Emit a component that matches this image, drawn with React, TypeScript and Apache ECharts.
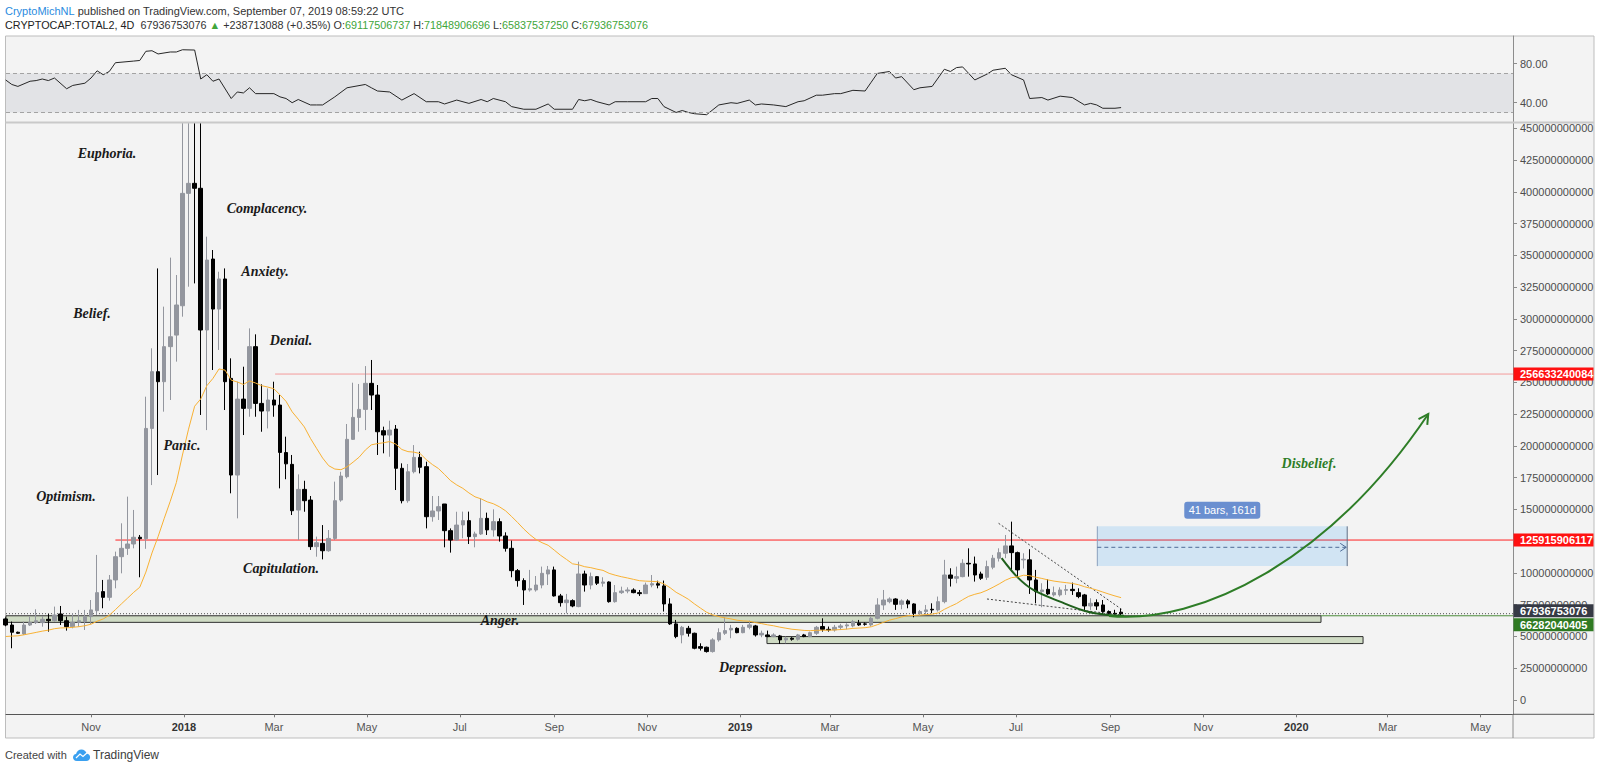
import React, { useEffect, useRef } from 'react';
import * as echarts from 'echarts';

// ---------------- data (values in billions of USD) ----------------
const firstBarUTC = Date.UTC(2017, 8, 6);
const barMs = 4 * 86400000;

const opens = [
  63.8, 59.0, 53.3, 52.0, 59.0, 60.9, 60.9, 63.5, 62.4, 67.7,
  62.4, 57.7, 61.1, 61.7, 65.6, 70.3, 85.3, 80.8, 94.5, 112.8,
  119.4, 122.8, 128.1, 127.0, 213.8, 258.5, 250.6, 278.2, 287.3, 310.4,
  398.9, 406.8, 402.9, 291.3, 347.2, 307.8, 331.5, 253.2, 177.1, 236.9,
  229.6, 278.2, 233.5, 227.5, 236.2, 232.2, 194.8, 185.5, 149.5, 165.8,
  157.4, 120.7, 123.3, 117.5, 127.2, 157.4, 175.8, 205.2, 222.5, 228.8,
  249.3, 240.1, 212.0, 208.6, 213.3, 182.4, 156.9, 179.7, 191.0, 183.7,
  144.3, 148.8, 154.3, 133.3, 125.9, 137.8, 141.2, 128.6, 130.7, 143.0,
  133.9, 140.4, 129.1, 119.4, 101.8, 94.0, 86.6, 86.6, 90.5, 99.2,
  102.4, 81.9, 76.6, 78.2, 73.5, 99.2, 90.5, 97.1, 91.9, 92.9,
  77.4, 84.5, 85.8, 86.6, 84.5, 83.7, 90.5, 91.5, 89.8, 75.6,
  59.9, 51.2, 56.4, 52.5, 42.0, 41.5, 38.1, 47.3, 52.5, 55.1,
  56.4, 53.0, 57.2, 58.3, 51.2, 51.2, 49.9, 50.4, 47.3, 48.6,
  47.8, 51.2, 49.9, 52.5, 57.8, 55.6, 55.1, 57.2, 58.3, 58.3,
  60.4, 59.9, 59.1, 64.3, 74.8, 77.4, 79.5, 75.3, 78.0, 75.6,
  68.3, 69.6, 71.4, 70.9, 77.4, 98.4, 95.8, 97.1, 107.6, 107.1,
  99.2, 96.6, 104.5, 111.6, 115.5, 121.3, 116.0, 110.3, 110.3, 94.5,
  85.3, 87.1, 82.7, 82.7, 86.3, 87.1, 84.5, 82.7, 74.0, 76.6,
  74.8, 69.6, 68.2, 69.117506737,
];
const closes = [
  59.0, 53.3, 52.5, 59.0, 61.1, 62.4, 63.5, 62.4, 66.9, 62.4,
  57.7, 61.1, 62.4, 65.6, 70.9, 84.5, 80.8, 94.5, 112.8, 119.4,
  122.8, 128.1, 127.0, 213.8, 258.5, 250.6, 278.2, 286.0, 311.0, 398.9,
  406.8, 402.9, 291.3, 346.4, 307.8, 331.5, 250.6, 177.1, 236.9, 229.6,
  278.2, 233.5, 227.5, 236.2, 232.2, 194.9, 185.9, 149.0, 165.8, 156.9,
  120.7, 123.8, 117.5, 127.2, 156.9, 176.3, 205.2, 222.5, 228.8, 249.3,
  240.1, 211.2, 208.6, 212.5, 182.4, 156.9, 179.7, 191.0, 183.2, 144.3,
  148.8, 152.2, 133.3, 125.9, 137.7, 141.2, 128.6, 130.7, 143.0, 133.9,
  140.4, 129.1, 119.4, 101.8, 94.0, 86.6, 87.6, 90.5, 99.7, 102.4,
  81.9, 76.6, 78.7, 74.0, 99.2, 90.5, 97.1, 91.9, 92.9, 77.4,
  84.5, 85.8, 86.6, 84.5, 83.7, 90.5, 91.5, 90.4, 75.6, 59.9,
  49.9, 57.2, 52.5, 40.7, 40.7, 38.1, 47.3, 53.0, 54.6, 56.4,
  53.0, 57.2, 59.1, 51.2, 52.5, 49.9, 51.2, 47.3, 48.6, 47.8,
  51.2, 49.9, 53.0, 57.2, 55.6, 55.1, 57.2, 58.3, 59.1, 61.7,
  59.1, 59.6, 64.3, 74.8, 78.7, 79.5, 75.3, 78.0, 75.6, 68.3,
  69.6, 70.9, 70.9, 77.4, 98.4, 95.8, 97.1, 107.6, 107.1, 98.4,
  95.8, 105.0, 111.6, 116.0, 121.3, 116.0, 102.4, 110.8, 94.5, 85.3,
  86.6, 83.5, 84.5, 86.6, 86.9, 86.1, 81.4, 74.0, 76.1, 74.0,
  69.6, 68.2, 67.7, 67.936753076,
];
const lows = [
  58.0, 40.7, 52.0, 51.2, 58.3, 59.8, 57.7, 53.8, 61.7, 59.0,
  54.6, 56.4, 57.7, 55.1, 59.8, 66.9, 72.2, 78.2, 87.9, 99.7,
  114.2, 119.4, 96.6, 119.0, 169.2, 177.1, 227.0, 236.2, 266.4, 301.8,
  325.4, 328.0, 224.4, 212.5, 259.8, 275.6, 228.3, 162.7, 143.0, 208.6,
  223.0, 223.0, 211.2, 213.8, 223.0, 166.6, 173.8, 145.6, 125.9, 148.2,
  118.1, 112.8, 110.7, 116.7, 125.9, 156.1, 174.5, 204.7, 211.2, 212.5,
  228.3, 192.9, 194.2, 191.5, 165.3, 154.8, 155.3, 178.4, 178.4, 135.1,
  140.4, 141.7, 120.2, 116.0, 125.4, 127.3, 122.8, 120.2, 129.9, 129.9,
  128.6, 124.7, 116.8, 96.6, 89.2, 74.8, 85.3, 85.3, 87.9, 90.5,
  81.4, 73.5, 68.2, 73.0, 73.0, 85.3, 87.1, 90.5, 89.2, 76.6,
  76.6, 83.5, 84.0, 84.0, 81.9, 83.5, 88.7, 87.9, 69.6, 59.1,
  48.6, 44.6, 49.9, 39.9, 38.9, 37.3, 37.3, 45.9, 51.2, 48.6,
  52.5, 52.5, 55.6, 49.9, 49.4, 49.4, 49.4, 44.1, 44.6, 46.7,
  46.7, 49.4, 49.4, 51.2, 53.8, 53.8, 53.8, 55.1, 55.6, 57.2,
  58.3, 58.5, 57.8, 63.5, 70.9, 76.1, 70.9, 71.4, 72.2, 65.1,
  66.1, 67.7, 68.3, 69.6, 76.1, 89.3, 91.9, 96.6, 97.1, 93.2,
  94.5, 94.5, 102.9, 109.0, 111.6, 101.0, 97.1, 103.5, 83.5, 76.1,
  73.0, 82.7, 81.4, 81.4, 82.7, 82.7, 80.1, 69.6, 70.9, 70.9,
  66.9, 66.5, 65.9, 65.83753725,
];
// the four January-2018 wicks run off the top of the pane; their visible top is used
const highs = [
  65.0, 61.7, 53.8, 61.7, 65.6, 71.4, 66.1, 67.7, 73.5, 74.0,
  65.6, 68.2, 70.9, 70.9, 78.7, 114.2, 94.5, 98.4, 116.8, 139.1,
  160.1, 149.6, 129.9, 238.8, 276.9, 339.8, 309.7, 348.3, 334.6, 455.0,
  455.0, 455.0, 455.0, 364.8, 354.3, 337.2, 339.8, 269.0, 250.6, 262.4,
  292.6, 287.9, 248.5, 245.3, 250.6, 240.1, 207.3, 192.9, 177.6, 172.6,
  160.6, 128.6, 137.7, 133.8, 171.9, 179.7, 217.3, 249.8, 248.8, 262.9,
  267.7, 248.0, 215.2, 219.9, 216.5, 186.3, 185.8, 200.7, 195.5, 187.6,
  160.6, 160.6, 154.3, 135.1, 148.2, 148.3, 148.3, 132.5, 158.8, 147.5,
  150.1, 143.0, 132.0, 125.5, 103.1, 95.8, 102.4, 97.6, 105.0, 105.5,
  105.0, 83.5, 83.5, 79.2, 108.9, 101.8, 100.3, 97.6, 96.6, 93.4,
  90.5, 89.2, 88.7, 87.9, 86.6, 92.4, 98.4, 93.9, 94.0, 80.1,
  63.0, 58.3, 58.3, 53.0, 44.6, 42.0, 48.6, 56.4, 65.1, 59.1,
  57.2, 59.1, 62.5, 59.1, 54.6, 54.6, 52.5, 51.2, 49.9, 49.4,
  52.0, 52.0, 53.8, 58.3, 64.3, 57.8, 59.1, 59.9, 60.4, 63.0,
  63.0, 61.0, 65.6, 80.1, 86.6, 80.8, 80.1, 79.2, 79.2, 76.1,
  70.9, 74.8, 76.1, 81.4, 110.3, 103.7, 105.0, 110.8, 119.4, 112.9,
  101.0, 109.7, 114.2, 119.4, 129.9, 140.4, 116.8, 115.5, 118.7, 102.4,
  91.9, 95.0, 89.3, 88.7, 90.6, 92.4, 87.9, 83.5, 80.1, 79.2,
  78.7, 70.5, 71.0, 71.848906696,
];

const emaLength = 20;
const emaSeed = 49;

const rsiBars = [
  0, 1, 2, 4, 5, 6, 7, 8, 10, 11, 13, 14, 15, 16, 17, 18, 21, 22, 23, 24,
  25, 27, 28, 29, 31, 32, 33, 34, 35, 37, 38, 39, 40, 41, 44, 45, 46, 47, 48, 50,
  51, 52, 54, 56, 59, 60, 61, 63, 65, 67, 69, 71, 72, 74, 76, 78, 79, 80, 82, 83,
  85, 87, 89, 90, 93, 94, 95, 96, 97, 99, 100, 102, 105, 106, 107, 108, 110, 111, 112, 113,
  115, 117, 119, 120, 122, 123, 124, 126, 128, 130, 131, 133, 134, 136, 137, 139, 141, 142, 143, 145,
  146, 147, 149, 150, 152, 154, 155, 156, 157, 159, 161, 162, 164, 165, 167, 168, 170, 171, 173, 175,
  177, 178, 179, 180, 182, 183,
];
const rsiValues = [
  63.3, 58.7, 56.7, 62, 62.7, 64.3, 62.7, 65.3, 54.3, 57.7, 60, 65.3, 72.7, 68.7, 72, 81, 82.7, 83.3, 92.7, 93.3,
  90, 92, 92, 94.3, 94, 64.3, 68.7, 62, 64.3, 44.3, 51, 50, 55.3, 49.3, 49.3, 46, 44.3, 40, 43.3, 37.7,
  37.7, 37.7, 46, 55.3, 58.7, 55.3, 52, 51, 42.7, 49.3, 41, 41, 38.7, 42.7, 39.3, 43.3, 41, 44.3, 41, 36,
  33.3, 33.3, 38.7, 33.3, 33.3, 43.3, 42, 43.3, 41, 37.7, 41, 41, 41, 44.3, 44.3, 36, 30, 32, 30, 28.7,
  27.7, 37.7, 40, 39.3, 42.7, 37.7, 38.7, 37.7, 36, 41, 42, 47.7, 47.7, 49.3, 49.3, 52.7, 52, 61, 70, 72,
  65.3, 66.7, 53.3, 55.3, 56.7, 74.3, 72, 76, 76.7, 63.3, 69.3, 73.3, 75.3, 68.7, 63.3, 44.3, 45.3, 42.7, 46.7, 45.3,
  37.7, 39.3, 37.7, 34.3, 34.3, 35,
];

const priceTicks = [0, 25, 50, 75, 100, 125, 150, 175, 200, 225, 250, 275, 300, 325, 350, 375, 400, 425, 450];
const rsiTicks = [40, 80];
const rsiUpper = 70;
const rsiLower = 30;

const monthTickDates = [
  [2017, 10], [2018, 0], [2018, 2], [2018, 4], [2018, 6], [2018, 8], [2018, 10],
  [2019, 0], [2019, 2], [2019, 4], [2019, 6], [2019, 8], [2019, 10],
  [2020, 0], [2020, 2], [2020, 4],
];
const monthTickLabels = ['Nov', '2018', 'Mar', 'May', 'Jul', 'Sep', 'Nov', '2019', 'Mar', 'May', 'Jul', 'Sep', 'Nov', '2020', 'Mar', 'May'];

const resistanceHigh = 256.633240084;
const resistanceLow = 125.915906117;
const lastClose = 67.936753076;
const supportTop = 66.282040405;
const supportBottom = 61.1;
const lowerZoneTop = 49.9;
const lowerZoneBottom = 44.4;

const headerAuthor = 'CryptoMichNL';
const headerPublished = ' published on TradingView.com, September 07, 2019 08:59:22 UTC';
const headerSymbol = 'CRYPTOCAP:TOTAL2, 4D';
const headerLast = '67936753076';
const headerChange = '+238713088 (+0.35%)';
const headerO = '69117506737';
const headerH = '71848906696';
const headerL = '65837537250';
const headerC = '67936753076';

// ---------------- layout ----------------
const FONT_SANS = '"Liberation Sans", Arial, sans-serif';
const FONT_SERIF = '"Liberation Serif", "DejaVu Serif", serif';
const FRAME_L = 5.5;
const FRAME_T = 36;
const FRAME_R = 1594;
const FRAME_B = 738;
const AXIS_X = 1513;
const RSI_B = 122.5;
const TIME_Y = 714.3;
const X_MIN = 0.05;
const X_MAX = 247.3;

const phaseLabels = [
  { text: 'Euphoria.', x: 107, y: 153 },
  { text: 'Complacency.', x: 267, y: 208 },
  { text: 'Anxiety.', x: 265, y: 271 },
  { text: 'Belief.', x: 92, y: 313 },
  { text: 'Denial.', x: 291, y: 340 },
  { text: 'Panic.', x: 182, y: 445 },
  { text: 'Optimism.', x: 66, y: 496 },
  { text: 'Capitulation.', x: 281, y: 568 },
  { text: 'Anger.', x: 500, y: 620 },
  { text: 'Depression.', x: 753, y: 667 },
];

const logoPath =
  'M4 12 C1.6 12 0 10.3 0 8.3 C0 6.4 1.4 4.9 3.2 4.7 C3.8 2 6.1 0 8.9 0 C11.6 0 13.8 1.8 14.5 4.3 C16.5 4.5 18 6.1 18 8.1 C18 10.3 16.3 12 14 12 Z';
echarts.graphic.registerShape('tvlogo', echarts.graphic.extendPath(logoPath, {}));

function monthPos(y: number, m: number) {
  return (Date.UTC(y, m, 1) - firstBarUTC) / barMs;
}

function computeEma(values: number[], len: number, seed: number) {
  const a = 2 / (len + 1);
  let e = seed;
  return values.map((c) => {
    e = e + a * (c - e);
    return e;
  });
}

function buildOption() {
  const ema = computeEma(closes, emaLength, emaSeed);
  const candles = opens.map((o, i) => [i, o, closes[i], lows[i], highs[i]]);
  const monthValues = monthTickDates.map(([y, m]) => monthPos(y, m));
  const monthFormatter = (v: number) => {
    let best = 0;
    monthValues.forEach((mv, i) => {
      if (Math.abs(mv - v) < Math.abs(monthValues[best] - v)) best = i;
    });
    const lab = monthTickLabels[best];
    return /^\d{4}$/.test(lab) ? `{yr|${lab}}` : lab;
  };

  return {
    animation: false,
    backgroundColor: '#ffffff',
    textStyle: { fontFamily: FONT_SANS },
    grid: [
      { left: 6, top: FRAME_T, width: AXIS_X - 6, height: RSI_B - FRAME_T },
      { left: 6, top: RSI_B, width: AXIS_X - 6, height: TIME_Y - RSI_B },
    ],
    xAxis: [
      { gridIndex: 0, type: 'value', min: X_MIN, max: X_MAX, show: false },
      {
        gridIndex: 1,
        type: 'value',
        min: X_MIN,
        max: X_MAX,
        axisLine: { show: true, onZero: false, lineStyle: { color: '#555555', width: 1 } },
        axisTick: { show: true, customValues: monthValues, length: 3, lineStyle: { color: '#777777' } },
        axisLabel: {
          customValues: monthValues,
          formatter: monthFormatter,
          color: '#555555',
          fontSize: 11,
          fontFamily: FONT_SANS,
          margin: 7,
          rich: { yr: { color: '#333333', fontWeight: 'bold', fontSize: 11, fontFamily: FONT_SANS } },
        },
        splitLine: { show: false },
      },
    ],
    yAxis: [
      {
        gridIndex: 0,
        type: 'value',
        position: 'right',
        min: 19.7,
        max: 108.4,
        axisLine: { show: true, lineStyle: { color: '#8c8c8c' } },
        axisTick: { show: true, customValues: rsiTicks, length: 4, lineStyle: { color: '#8c8c8c' } },
        axisLabel: {
          customValues: rsiTicks,
          formatter: (v: number) => v.toFixed(2),
          color: '#4d4d4d',
          fontSize: 11,
          fontFamily: FONT_SANS,
          margin: 7,
        },
        splitLine: { show: false },
      },
      {
        gridIndex: 1,
        type: 'value',
        position: 'right',
        min: -11.3,
        max: 454.7,
        axisLine: { show: true, lineStyle: { color: '#8c8c8c' } },
        axisTick: { show: true, customValues: priceTicks, length: 4, lineStyle: { color: '#8c8c8c' } },
        axisLabel: {
          customValues: priceTicks,
          formatter: (v: number) => (v * 1e9).toFixed(0),
          color: '#4d4d4d',
          fontSize: 11,
          fontFamily: FONT_SANS,
          margin: 7,
        },
        splitLine: { show: false },
      },
    ],
    series: [
      {
        name: 'RSI',
        type: 'line',
        xAxisIndex: 0,
        yAxisIndex: 0,
        data: rsiBars.map((b, i) => [b, rsiValues[i]]),
        symbol: 'none',
        lineStyle: { color: '#262626', width: 1 },
        z: 3,
        markArea: {
          silent: true,
          itemStyle: { color: '#e2e3e6' },
          data: [[{ yAxis: rsiLower }, { yAxis: rsiUpper }]],
        },
        markLine: {
          silent: true,
          symbol: 'none',
          label: { show: false },
          lineStyle: { color: '#a3a3a3', type: [4, 3], width: 1 },
          data: [{ yAxis: rsiUpper }, { yAxis: rsiLower }],
        },
      },
      {
        name: 'TOTAL2',
        type: 'candlestick',
        xAxisIndex: 1,
        yAxisIndex: 1,
        data: candles,
        encode: { x: 0, y: [1, 2, 3, 4] },
        barWidth: 4,
        clip: true,
        z: 2,
        itemStyle: {
          color: '#93969e',
          color0: '#000000',
          borderColor: '#93969e',
          borderColor0: '#000000',
          borderWidth: 1,
        },
      },
      {
        name: 'EMA 20',
        type: 'line',
        xAxisIndex: 1,
        yAxisIndex: 1,
        data: ema.map((v, i) => [i, v]),
        symbol: 'none',
        clip: true,
        lineStyle: { color: '#f8b133', width: 1 },
        z: 4,
      },
    ],
  };
}

function buildGraphics(chart: any) {
  const P = (k: number, v: number) => chart.convertToPixel({ gridIndex: 1 }, [k, v]) as number[];
  const X = (k: number) => P(k, 0)[0];
  const Y = (v: number) => P(0, v)[1];
  const left = X(X_MIN);
  const right = X(X_MAX);
  const g: any[] = [];

  const line = (x1: number, y1: number, x2: number, y2: number, style: any, z = 1) =>
    g.push({ type: 'line', z, shape: { x1, y1, x2, y2 }, style: { fill: null, ...style } });
  const rect = (x1: number, y1: number, x2: number, y2: number, style: any, z = 1) =>
    g.push({
      type: 'rect',
      z,
      shape: { x: Math.min(x1, x2), y: Math.min(y1, y2), width: Math.abs(x2 - x1), height: Math.abs(y2 - y1) },
      style,
    });

  // frame + panel backgrounds
  rect(FRAME_L, FRAME_T, FRAME_R, FRAME_B, { fill: '#f3f3f3', stroke: '#bdbdbd', lineWidth: 1 }, -10);
  line(FRAME_L, RSI_B, FRAME_R, RSI_B, { stroke: '#c9c9c9', lineWidth: 2 }, 6);
  line(AXIS_X, TIME_Y, AXIS_X, FRAME_B, { stroke: '#8c8c8c', lineWidth: 1 }, 6);
  line(AXIS_X, TIME_Y, FRAME_R, TIME_Y, { stroke: '#555555', lineWidth: 1 }, 6);

  // support zones
  rect(left, Y(supportTop), X(215.8), Y(supportBottom), { fill: '#cfdbc4', stroke: '#2f2f2f', lineWidth: 1 }, 1);
  rect(X(124.9), Y(lowerZoneTop), X(222.7), Y(lowerZoneBottom), { fill: '#cfdbc4', stroke: '#2f2f2f', lineWidth: 1 }, 1);
  line(X(215.8), Y(supportTop), right, Y(supportTop), { stroke: '#4b8b3b', lineWidth: 1 }, 1);
  line(left, Y(lastClose), right, Y(lastClose), { stroke: '#555555', lineWidth: 1, lineDash: [1, 2] }, 1);

  // resistance lines
  line(X(44.2), Y(resistanceHigh), right, Y(resistanceHigh), { stroke: '#f39a9a', lineWidth: 1 }, 1);
  line(X(18), Y(resistanceLow), right, Y(resistanceLow), { stroke: '#ff2020', lineWidth: 1 }, 1);

  // date range box
  const bx1 = X(179.1);
  const bx2 = X(220.1);
  const byT = Y(136.7);
  const byB = Y(105.4);
  rect(bx1, byT, bx2, byB, { fill: 'rgba(33,150,243,0.16)' }, 1);
  line(bx1, byT, bx1, byB, { stroke: '#8aa0bd', lineWidth: 1 }, 1);
  line(bx2, byT, bx2, byB, { stroke: '#5f6f86', lineWidth: 1 }, 1);
  const ay = Y(120.2);
  line(bx1, ay, bx2 - 1, ay, { stroke: '#4f6c96', lineWidth: 1, lineDash: [4, 3] }, 2);
  g.push({
    type: 'polyline',
    z: 2,
    shape: { points: [[bx2 - 7, ay - 4], [bx2 - 1, ay], [bx2 - 7, ay + 4]] },
    style: { stroke: '#4f6c96', lineWidth: 1, fill: null },
  });
  const lcx = (bx1 + bx2) / 2;
  const lcy = byT - 16;
  g.push({
    type: 'rect',
    z: 5,
    shape: { x: lcx - 38, y: lcy - 8.5, width: 76, height: 17, r: 3 },
    style: { fill: '#6a8fd0' },
  });
  g.push({
    type: 'text',
    z: 6,
    x: lcx,
    y: lcy,
    style: { text: '41 bars, 161d', fill: '#ffffff', font: `11px ${FONT_SANS}`, align: 'center', verticalAlign: 'middle' },
  });

  // falling wedge lines
  const up1 = P(162.9, 139.1);
  const up2 = P(183.2, 71);
  const lo1 = P(161, 79.5);
  const lo2 = P(183.2, 66.8);
  line(up1[0], up1[1], up2[0], up2[1], { stroke: '#444444', lineWidth: 1, lineDash: [2, 2] }, 3);
  line(lo1[0], lo1[1], lo2[0], lo2[1], { stroke: '#444444', lineWidth: 1, lineDash: [2, 2] }, 3);

  // rounding arc
  const arc = [
    [163.4, 111.6], [165.9, 97.1], [168.6, 86.6], [173, 77.4], [177.4, 69.6], [180.9, 66.9], [183.5, 66.3],
  ].map(([k, v]) => P(k, v));
  g.push({ type: 'polyline', z: 3, shape: { points: arc, smooth: 0.35 }, style: { stroke: '#1f5f1c', lineWidth: 2, fill: null } });

  // disbelief arrow
  const p0 = P(181, 66.1);
  const c1 = P(196, 59);
  const c2 = P(217.3, 110.2);
  const p3 = P(233.4, 225.2);
  g.push({
    type: 'bezierCurve',
    z: 3,
    shape: { x1: p0[0], y1: p0[1], cpx1: c1[0], cpy1: c1[1], cpx2: c2[0], cpy2: c2[1], x2: p3[0], y2: p3[1] },
    style: { stroke: '#2e7d27', lineWidth: 2, fill: null },
  });
  const dx = p3[0] - c2[0];
  const dy = p3[1] - c2[1];
  const dl = Math.hypot(dx, dy);
  const ux = dx / dl;
  const uy = dy / dl;
  const head = 11;
  const ang = 0.5;
  const rot = (a: number) => [
    p3[0] - head * (ux * Math.cos(a) - uy * Math.sin(a)),
    p3[1] - head * (ux * Math.sin(a) + uy * Math.cos(a)),
  ];
  g.push({
    type: 'polyline',
    z: 3,
    shape: { points: [rot(ang), [p3[0], p3[1]], rot(-ang)] },
    style: { stroke: '#2e7d27', lineWidth: 2, fill: null },
  });

  // phase labels
  phaseLabels.forEach((l) =>
    g.push({
      type: 'text',
      z: 5,
      x: l.x,
      y: l.y,
      style: { text: l.text, fill: '#1a1a1a', font: `italic bold 14px ${FONT_SERIF}`, align: 'center', verticalAlign: 'middle' },
    })
  );
  g.push({
    type: 'text',
    z: 5,
    x: 1309,
    y: 463,
    style: { text: 'Disbelief.', fill: '#2e7d27', font: `italic bold 14px ${FONT_SERIF}`, align: 'center', verticalAlign: 'middle' },
  });

  // price axis tags
  const tags = [
    { v: resistanceHigh, bg: '#ff1111', dy: 0 },
    { v: resistanceLow, bg: '#ff1111', dy: 0 },
    { v: lastClose, bg: '#363a45', dy: -3 },
    { v: supportTop, bg: '#2f7a22', dy: 9 },
  ];
  tags.forEach((t) => {
    const cy = Y(t.v) + t.dy;
    g.push({ type: 'rect', z: 10, shape: { x: AXIS_X + 0.5, y: cy - 6.5, width: FRAME_R - AXIS_X - 1, height: 13 }, style: { fill: t.bg } });
    g.push({
      type: 'text',
      z: 11,
      x: AXIS_X + 7,
      y: cy,
      style: { text: (t.v * 1e9).toFixed(0), fill: '#ffffff', font: `bold 11px ${FONT_SANS}`, align: 'left', verticalAlign: 'middle' },
    });
  });

  // header
  g.push({
    type: 'text',
    z: 10,
    x: 5,
    y: 11,
    style: {
      text: `{a|${headerAuthor}}{b|${headerPublished}}`,
      verticalAlign: 'middle',
      font: `11px ${FONT_SANS}`,
      rich: {
        a: { fill: '#2a8be0', fontSize: 11, fontFamily: FONT_SANS },
        b: { fill: '#333333', fontSize: 11, fontFamily: FONT_SANS },
      },
    },
  });
  g.push({
    type: 'text',
    z: 10,
    x: 5,
    y: 24.5,
    style: {
      text:
        `{k|${headerSymbol}}{n|  ${headerLast} }{g|\u25B2}{n| ${headerChange} O:}{g|${headerO}}` +
        `{n| H:}{g|${headerH}}{n| L:}{g|${headerL}}{n| C:}{g|${headerC}}`,
      verticalAlign: 'middle',
      font: `10.8px ${FONT_SANS}`,
      rich: {
        k: { fill: '#222222', fontSize: 10.8, fontFamily: FONT_SANS },
        n: { fill: '#333333', fontSize: 10.8, fontFamily: FONT_SANS },
        g: { fill: '#41a63a', fontSize: 10.8, fontFamily: FONT_SANS },
      },
    },
  });

  // footer
  g.push({
    type: 'text',
    z: 10,
    x: 5,
    y: 755,
    style: { text: 'Created with', fill: '#444444', font: `11px ${FONT_SANS}`, align: 'left', verticalAlign: 'middle' },
  });
  g.push({ type: 'tvlogo', z: 10, x: 73, y: 749.5, scaleX: 0.95, scaleY: 0.95, style: { fill: '#3aa0f0' } });
  g.push({
    type: 'polyline',
    z: 11,
    shape: { points: [[76, 758], [80, 754], [83, 756.5], [88, 752]] },
    style: { stroke: '#ffffff', lineWidth: 1.2, fill: null },
  });
  g.push({
    type: 'text',
    z: 10,
    x: 93,
    y: 755,
    style: { text: 'TradingView', fill: '#3d3d3d', font: `12px ${FONT_SANS}`, align: 'left', verticalAlign: 'middle' },
  });

  return g;
}

export default function App() {
  const ref = useRef<HTMLDivElement>(null);
  useEffect(() => {
    document.body.style.margin = '0';
    if (!ref.current) return;
    const chart = echarts.init(ref.current, null, { renderer: 'svg' });
    chart.setOption(buildOption() as any);
    chart.setOption({ graphic: { elements: buildGraphics(chart) } } as any);
    return () => chart.dispose();
  }, []);
  return <div ref={ref} style={{ width: 1600, height: 771, background: '#ffffff' }} />;
}
